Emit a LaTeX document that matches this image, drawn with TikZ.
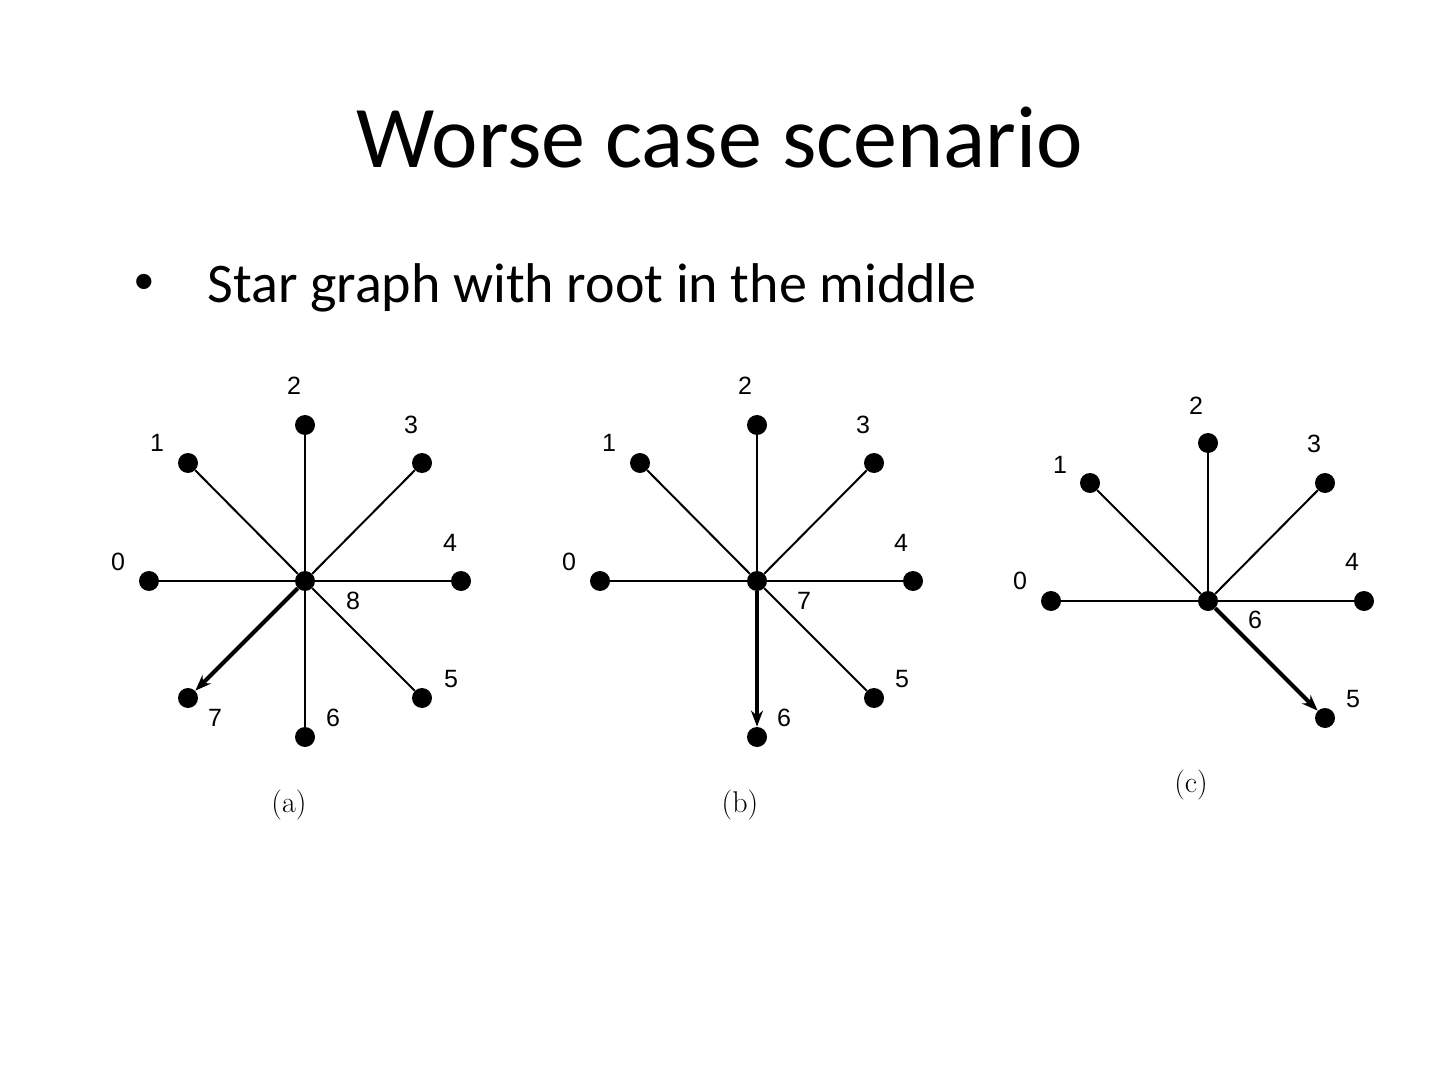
\documentclass[tikz,border=0pt]{standalone}
\usepackage{fontspec}
\setmainfont{Carlito}
\newfontfamily\arialf{Liberation Sans}
\newfontfamily\cmfont{Latin Modern Roman}
\usetikzlibrary{arrows.meta}
\begin{document}
\begin{tikzpicture}[x=0.5pt,y=-0.5pt,
  vert/.style={circle,fill=black,inner sep=0pt,minimum size=10pt},
  lab/.style={font=\arialf\fontsize{12.5}{14}\selectfont,inner sep=0pt},
  edgeline/.style={line width=1pt},
  arr/.style={line width=2pt,-{Stealth[length=8pt,width=6pt]}},
  captxt/.style={font=\cmfont\fontsize{15}{17}\selectfont,inner sep=0pt}]
\useasboundingbox[fill=white] (0,0) rectangle (1440,1080);
% title and bullet
\node[anchor=base,inner sep=0pt,font=\fontsize{44}{52}\selectfont] (title) at (720,168) {Worse case scenario};
\node[anchor=base west,inner sep=0pt,font=\arialf\fontsize{28}{32}\selectfont] (bullet) at (134,301) {•};
\node[anchor=base west,inner sep=0pt,font=\fontsize{28}{32}\selectfont] (btext) at (207,303) {Star graph with root in the middle};
% graph (a)
\begin{scope}[shift={(305,581)}]
  \node[vert] (a8) at (0,0) {};
  \node[vert] (a0) at (-156,0) {};
  \node[vert] (a1) at (-117,-118) {};
  \node[vert] (a2) at (0,-156) {};
  \node[vert] (a3) at (117,-118) {};
  \node[vert] (a4) at (156,0) {};
  \node[vert] (a5) at (117,117) {};
  \node[vert] (a6) at (0,156) {};
  \node[vert] (a7) at (-117,117) {};
  \foreach \n in {0,1,2,3,4,5,6} \draw[edgeline] (a8) -- (a\n);
  \draw[arr] (a8) -- (a7);
  \node[lab] (la0) at (-187,-19) {0};
  \node[lab] (la1) at (-148,-138) {1};
  \node[lab] (la2) at (-11,-195) {2};
  \node[lab] (la3) at (106,-156) {3};
  \node[lab] (la4) at (145,-38) {4};
  \node[lab] (la5) at (146,98) {5};
  \node[lab] (la6) at (28,137) {6};
  \node[lab] (la7) at (-90,137) {7};
  \node[lab] (la8) at (48,20) {8};
  \node[captxt] (capa) at (-16,224) {(a)};
\end{scope}
% graph (b)
\begin{scope}[shift={(757,581)}]
  \node[vert] (b7) at (0,0) {};
  \node[vert] (b0) at (-157,0) {};
  \node[vert] (b1) at (-117,-118) {};
  \node[vert] (b2) at (0,-156) {};
  \node[vert] (b3) at (117,-118) {};
  \node[vert] (b4) at (156,0) {};
  \node[vert] (b5) at (117,117) {};
  \node[vert] (b6) at (0,156) {};
  \foreach \n in {0,1,2,3,4,5} \draw[edgeline] (b7) -- (b\n);
  \draw[arr] (b7) -- (b6);
  \node[lab] (lb0) at (-188,-19) {0};
  \node[lab] (lb1) at (-148,-138) {1};
  \node[lab] (lb2) at (-12,-195) {2};
  \node[lab] (lb3) at (106,-156) {3};
  \node[lab] (lb4) at (144,-38) {4};
  \node[lab] (lb5) at (145,98) {5};
  \node[lab] (lb6) at (27,137) {6};
  \node[lab] (lb7) at (47,20) {7};
  \node[captxt] (capb) at (-17,224) {(b)};
\end{scope}
% graph (c)
\begin{scope}[shift={(1208,601)}]
  \node[vert] (c6) at (0,0) {};
  \node[vert] (c0) at (-157,0) {};
  \node[vert] (c1) at (-118,-118) {};
  \node[vert] (c2) at (0,-158) {};
  \node[vert] (c3) at (117,-118) {};
  \node[vert] (c4) at (156,0) {};
  \node[vert] (c5) at (117,117) {};
  \foreach \n in {0,1,2,3,4} \draw[edgeline] (c6) -- (c\n);
  \draw[arr] (c6) -- (c5);
  \node[lab] (lc0) at (-188,-20) {0};
  \node[lab] (lc1) at (-148,-136) {1};
  \node[lab] (lc2) at (-12,-195) {2};
  \node[lab] (lc3) at (106,-157) {3};
  \node[lab] (lc4) at (144,-39) {4};
  \node[lab] (lc5) at (145,98) {5};
  \node[lab] (lc6) at (47,19) {6};
  \node[captxt] (capc) at (-17,184) {(c)};
\end{scope}
\end{tikzpicture}
\end{document}
